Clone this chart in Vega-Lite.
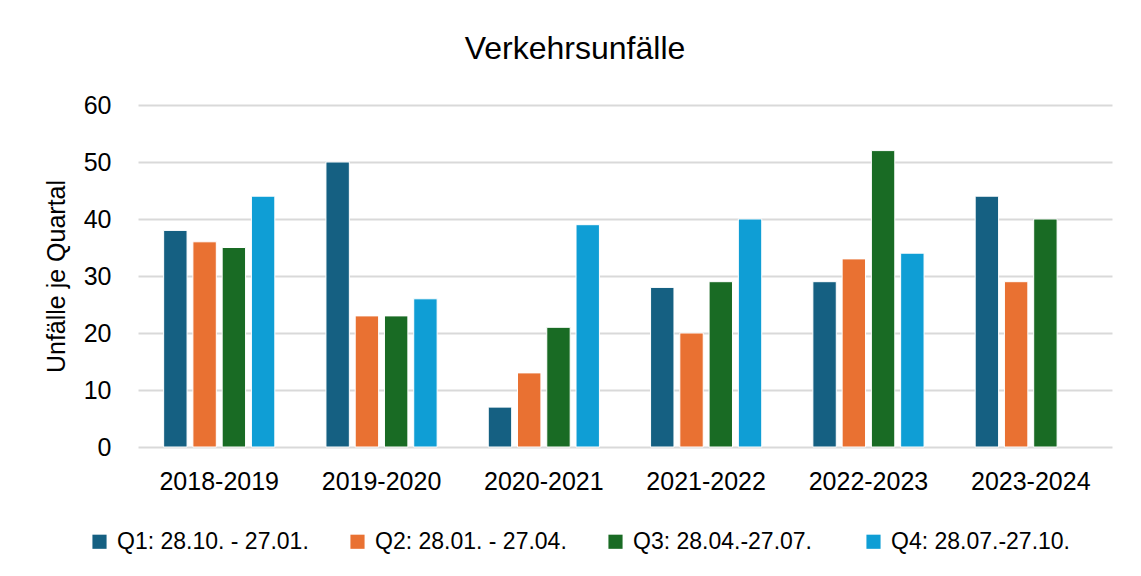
{
  "$schema": "https://vega.github.io/schema/vega-lite/v6.json",
  "autosize": "none",
  "width": 974,
  "height": 342,
  "padding": {"left": 138, "top": 105, "right": 29, "bottom": 129},
  "background": "white",
  "title": {"text": "Verkehrsunfälle", "fontSize": 32, "font": "Liberation Sans", "fontWeight": "normal", "color": "#000000", "anchor": "middle", "dx": -50, "offset": 27},
  "data": {"values": [
    {"Jahr": "2018-2019", "Quartal": "Q1: 28.10. - 27.01.", "Wert": 38},
    {"Jahr": "2018-2019", "Quartal": "Q2: 28.01. - 27.04.", "Wert": 36},
    {"Jahr": "2018-2019", "Quartal": "Q3: 28.04.-27.07.", "Wert": 35},
    {"Jahr": "2018-2019", "Quartal": "Q4: 28.07.-27.10.", "Wert": 44},
    {"Jahr": "2019-2020", "Quartal": "Q1: 28.10. - 27.01.", "Wert": 50},
    {"Jahr": "2019-2020", "Quartal": "Q2: 28.01. - 27.04.", "Wert": 23},
    {"Jahr": "2019-2020", "Quartal": "Q3: 28.04.-27.07.", "Wert": 23},
    {"Jahr": "2019-2020", "Quartal": "Q4: 28.07.-27.10.", "Wert": 26},
    {"Jahr": "2020-2021", "Quartal": "Q1: 28.10. - 27.01.", "Wert": 7},
    {"Jahr": "2020-2021", "Quartal": "Q2: 28.01. - 27.04.", "Wert": 13},
    {"Jahr": "2020-2021", "Quartal": "Q3: 28.04.-27.07.", "Wert": 21},
    {"Jahr": "2020-2021", "Quartal": "Q4: 28.07.-27.10.", "Wert": 39},
    {"Jahr": "2021-2022", "Quartal": "Q1: 28.10. - 27.01.", "Wert": 28},
    {"Jahr": "2021-2022", "Quartal": "Q2: 28.01. - 27.04.", "Wert": 20},
    {"Jahr": "2021-2022", "Quartal": "Q3: 28.04.-27.07.", "Wert": 29},
    {"Jahr": "2021-2022", "Quartal": "Q4: 28.07.-27.10.", "Wert": 40},
    {"Jahr": "2022-2023", "Quartal": "Q1: 28.10. - 27.01.", "Wert": 29},
    {"Jahr": "2022-2023", "Quartal": "Q2: 28.01. - 27.04.", "Wert": 33},
    {"Jahr": "2022-2023", "Quartal": "Q3: 28.04.-27.07.", "Wert": 52},
    {"Jahr": "2022-2023", "Quartal": "Q4: 28.07.-27.10.", "Wert": 34},
    {"Jahr": "2023-2024", "Quartal": "Q1: 28.10. - 27.01.", "Wert": 44},
    {"Jahr": "2023-2024", "Quartal": "Q2: 28.01. - 27.04.", "Wert": 29},
    {"Jahr": "2023-2024", "Quartal": "Q3: 28.04.-27.07.", "Wert": 40}
  ]},
  "mark": {"type": "bar", "stroke": "white", "strokeWidth": 1},
  "encoding": {
    "x": {
      "field": "Jahr", "type": "nominal",
      "scale": {"paddingInner": 0.315, "paddingOuter": 0.158},
      "axis": {"title": null, "labelAngle": 0, "labelFont": "Liberation Sans", "labelFontSize": 25, "labelColor": "#000000", "labelPadding": 22, "ticks": false, "domain": false}
    },
    "xOffset": {"field": "Quartal", "type": "nominal", "scale": {"paddingInner": 0.2, "paddingOuter": 0}},
    "y": {
      "field": "Wert", "type": "quantitative",
      "scale": {"domain": [0, 60]},
      "axis": {"title": "Unfälle je Quartal", "titleFont": "Liberation Sans", "titleFontSize": 25, "titleFontWeight": "normal", "titleColor": "#000000", "titlePadding": 14, "values": [0, 10, 20, 30, 40, 50, 60], "labelFont": "Liberation Sans", "labelFontSize": 25, "labelColor": "#000000", "labelPadding": 27, "ticks": false, "domain": false, "gridColor": "#d9d9d9", "gridWidth": 2}
    },
    "color": {
      "field": "Quartal", "type": "nominal",
      "scale": {"domain": ["Q1: 28.10. - 27.01.", "Q2: 28.01. - 27.04.", "Q3: 28.04.-27.07.", "Q4: 28.07.-27.10."], "range": ["#156082", "#E97132", "#196B24", "#0F9ED5"]},
      "legend": {"title": null, "orient": "none", "legendX": -50, "legendY": 425, "direction": "horizontal", "columns": 4, "gridAlign": "all", "columnPadding": 37, "symbolType": "square", "symbolSize": 200, "symbolStrokeWidth": 0, "labelFont": "Liberation Sans", "labelFontSize": 23, "labelColor": "#000000", "labelOffset": 6, "labelLimit": 400}
    }
  },
  "config": {"view": {"stroke": null}}
}
